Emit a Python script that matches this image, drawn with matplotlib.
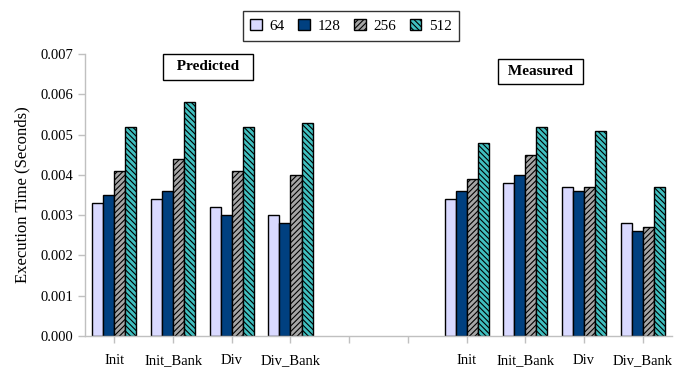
import numpy as np
import matplotlib
matplotlib.use('Agg')
import matplotlib.pyplot as plt

plt.rcParams['font.family'] = ['Liberation Serif', 'DejaVu Serif']
plt.rcParams['hatch.linewidth'] = 0.8

categories = ['Init', 'Init_Bank', 'Div', 'Div_Bank', '', '',
              'Init', 'Init_Bank', 'Div', 'Div_Bank']
series = ['64', '128', '256', '512']

# predicted block then measured block, two empty slots in between
v64 = [0.0033, 0.0034, 0.0032, 0.0030, 0, 0, 0.0034, 0.0038, 0.0037, 0.0028]
v128 = [0.0035, 0.0036, 0.0030, 0.0028, 0, 0, 0.0036, 0.0040, 0.0036, 0.0026]
v256 = [0.0041, 0.0044, 0.0041, 0.0040, 0, 0, 0.0039, 0.0045, 0.0037, 0.0027]
v512 = [0.0052, 0.0058, 0.0052, 0.0053, 0, 0, 0.0048, 0.0052, 0.0051, 0.0037]

colors = ['#D9D9FF', '#004080', '#A6A6A6', '#40C0C0']
hatches = ['', '', '//////', '\\\\\\\\\\\\']

fig = plt.figure(figsize=(6.83, 3.68), dpi=100)
ax = fig.add_axes([0.1245, 0.087, 0.8595, 0.766])

x = np.arange(len(categories))
w = 0.1875
allvals = [v64, v128, v256, v512]
handles = []
for k, vals in enumerate(allvals):
    vals = np.array(vals)
    mask = vals > 0
    b = ax.bar(x[mask] + (k - 1.5) * w, vals[mask], w, color=colors[k],
               hatch=hatches[k], edgecolor='black', linewidth=1.0,
               label=series[k])
    handles.append(b)

ax.set_xlim(-0.5, len(categories) - 0.5)
ax.set_ylim(0, 0.007)
ax.set_yticks(np.arange(0, 0.0071, 0.001))
ax.set_yticklabels(['%.3f' % t for t in np.arange(0, 0.0071, 0.001)])
ax.set_xticks(x)
ax.set_xticklabels(categories)
ax.tick_params(axis='both', colors='#C0C0C0', labelcolor='black',
               labelsize=10.5, length=5, width=1)
ax.tick_params(axis='x', pad=8)
for s in ['top', 'right']:
    ax.spines[s].set_visible(False)
for s in ['left', 'bottom']:
    ax.spines[s].set_color('#C0C0C0')
    ax.spines[s].set_linewidth(1)
ax.set_ylabel('Execution Time (Seconds)', fontsize=12, labelpad=7)

leg = fig.legend(handles=handles, loc='upper center', ncol=4,
                 bbox_to_anchor=(0.514, 0.99), fontsize=11,
                 frameon=True, fancybox=False, handlelength=0.75,
                 handleheight=0.75, handletextpad=0.5, columnspacing=0.9,
                 borderpad=0.5)
leg.get_frame().set_edgecolor('black')
leg.get_frame().set_linewidth(1)

box = dict(boxstyle='square,pad=0.4', facecolor='white',
           edgecolor='black', linewidth=1)
fig.text(0.304, 0.818, '  Predicted  ', fontsize=11, fontweight='bold',
         ha='center', va='center', bbox=box)
fig.text(0.791, 0.806, ' Measured ', fontsize=11, fontweight='bold',
         ha='center', va='center', bbox=box)

fig.savefig('out.png', dpi=100)
